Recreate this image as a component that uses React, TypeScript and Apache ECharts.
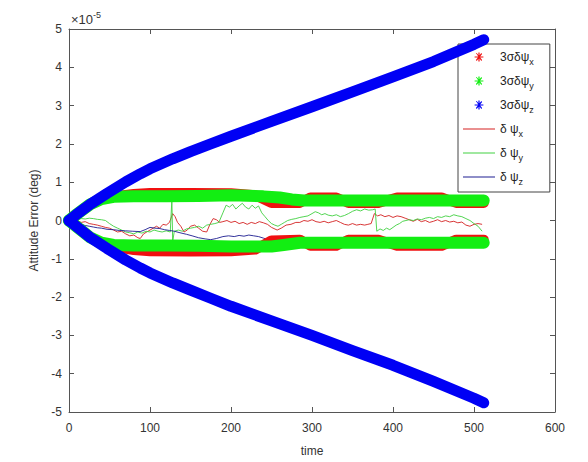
import { useEffect, useRef } from "react";
import * as echarts from "echarts";

const FONT = '"Liberation Sans", Arial, Helvetica, sans-serif';

// all values in units of 1e-5 deg, time in s
const xTicks = { min: 0, max: 600, interval: 100 };
const yTicks = { min: -5, max: 5, interval: 1 };

const legendNames = ["3σδψx", "3σδψy", "3σδψz", "δψx", "δψy", "δψz"];
const legendLabels: Record<string, string> = {
  "3σδψx": "3σδψ{s|x}",
  "3σδψy": "3σδψ{s|y}",
  "3σδψz": "3σδψ{s|z}",
  "δψx": "δ ψ{s|x}",
  "δψy": "δ ψ{s|y}",
  "δψz": "δ ψ{s|z}",
};

const sigmaXUpper = [[0,0],[10,0.17],[26,0.42],[40,0.55],[60,0.64],[80,0.69],[100,0.72],[150,0.72],[200,0.71],[230,0.66],[250,0.46],[285,0.46],[298,0.6],[330,0.6],[345,0.46],[382,0.46],[405,0.6],[460,0.6],[478,0.46],[512,0.46]];
const sigmaXLower = [[0,0],[10,-0.17],[26,-0.44],[40,-0.58],[60,-0.7],[80,-0.77],[100,-0.8],[150,-0.81],[200,-0.8],[230,-0.76],[250,-0.52],[285,-0.5],[298,-0.66],[330,-0.66],[345,-0.5],[382,-0.5],[405,-0.66],[460,-0.66],[478,-0.5],[512,-0.5]];

const sigmaYUpper = [[0,0],[10,0.17],[26,0.42],[40,0.56],[55,0.62],[80,0.63],[120,0.63],[160,0.64],[200,0.66],[240,0.63],[260,0.6],[275,0.55],[290,0.52],[350,0.52],[400,0.52],[450,0.52],[512,0.52]];
const sigmaYLower = [[0,0],[10,-0.17],[26,-0.44],[40,-0.58],[55,-0.64],[80,-0.65],[120,-0.65],[160,-0.66],[200,-0.68],[250,-0.68],[265,-0.64],[285,-0.58],[350,-0.58],[400,-0.58],[450,-0.58],[512,-0.58]];

const sigmaZUpper = [[0,0],[10,0.17],[26,0.42],[47,0.71],[70,1.01],[88,1.22],[100,1.35],[128,1.61],[150,1.8],[175,2.0],[200,2.2],[250,2.59],[300,2.97],[350,3.36],[400,3.75],[450,4.15],[500,4.6],[512,4.72]];
const sigmaZLower = [[0,0],[10,-0.17],[26,-0.44],[47,-0.73],[70,-1.03],[88,-1.24],[100,-1.37],[128,-1.63],[150,-1.82],[175,-2.03],[200,-2.24],[250,-2.62],[300,-3.0],[350,-3.4],[400,-3.78],[450,-4.2],[500,-4.64],[512,-4.76]];

const dPsiX = [[0,0],[5,-0.02],[10,0.0],[15,-0.05],[20,-0.03],[25,-0.08],[30,-0.1],[35,-0.12],[40,-0.15],[45,-0.18],[50,-0.2],[55,-0.25],[60,-0.3],[65,-0.28],[70,-0.35],[75,-0.4],[80,-0.38],[85,-0.45],[88,-0.47],[92,-0.35],[96,-0.3],[100,-0.25],[104,-0.2],[108,-0.15],[112,-0.2],[116,-0.1],[120,-0.12],[124,-0.05],[128,0.18],[131,0.1],[134,-0.05],[138,-0.15],[142,-0.3],[146,-0.25],[150,-0.15],[155,-0.12],[160,-0.2],[165,-0.28],[170,-0.3],[174,-0.1],[178,0.05],[182,0.02],[186,-0.05],[190,-0.03],[195,0.0],[200,-0.05],[205,-0.02],[210,-0.08],[215,-0.05],[220,-0.1],[225,-0.05],[230,-0.08],[235,-0.03],[240,-0.06],[245,-0.1],[250,-0.18],[257,-0.25],[262,-0.2],[268,-0.12],[274,-0.1],[280,-0.05],[285,-0.05],[290,0.0],[295,-0.02],[300,0.02],[305,-0.03],[310,-0.05],[315,-0.02],[320,-0.06],[325,-0.03],[330,0.0],[335,-0.05],[340,-0.1],[345,-0.12],[350,-0.08],[355,-0.12],[360,-0.1],[365,-0.12],[369,-0.1],[373,-0.08],[377,0.18],[381,0.12],[385,0.15],[390,0.1],[395,0.13],[400,0.08],[405,0.12],[410,0.1],[415,0.06],[420,0.02],[425,-0.02],[430,0.03],[435,-0.03],[440,0.0],[445,-0.05],[450,-0.02],[455,0.02],[460,-0.03],[465,0.0],[470,-0.04],[475,-0.02],[480,-0.06],[485,-0.04],[490,-0.12],[495,-0.15],[500,-0.1],[505,-0.08],[510,-0.1]];

const dPsiY = [[0,0],[5,0.02],[10,0.03],[15,0.05],[20,0.04],[25,0.06],[30,0.05],[35,0.03],[40,0.02],[45,0.0],[50,-0.08],[55,-0.15],[60,-0.2],[65,-0.25],[70,-0.3],[75,-0.32],[80,-0.35],[85,-0.3],[90,-0.33],[95,-0.28],[100,-0.3],[105,-0.25],[110,-0.28],[115,-0.3],[120,-0.27],[125,-0.3],[127,0.55],[128,-0.55],[130,-0.28],[135,-0.25],[140,-0.28],[145,-0.22],[150,-0.2],[155,-0.18],[160,-0.15],[165,-0.2],[170,-0.12],[175,-0.1],[180,-0.08],[185,-0.05],[190,0.2],[194,0.4],[198,0.35],[202,0.42],[206,0.3],[210,0.38],[214,0.45],[218,0.35],[222,0.3],[226,0.4],[230,0.32],[234,0.38],[238,0.2],[242,0.1],[246,0.0],[250,-0.08],[254,-0.12],[258,-0.15],[262,-0.1],[266,-0.05],[270,0.0],[275,0.03],[280,0.05],[285,0.08],[290,0.1],[295,0.12],[300,0.18],[304,0.23],[308,0.2],[312,0.15],[316,0.18],[320,0.14],[325,0.12],[330,0.15],[335,0.1],[340,0.13],[345,0.18],[350,0.24],[355,0.28],[360,0.25],[365,0.3],[370,0.27],[375,0.28],[378,0.3],[380,-0.28],[384,-0.22],[388,-0.26],[392,-0.2],[396,-0.24],[400,-0.18],[404,-0.12],[408,-0.08],[412,-0.02],[416,0.0],[420,0.02],[425,0.0],[430,0.04],[435,0.02],[440,0.06],[445,0.08],[450,0.05],[455,0.1],[460,0.08],[465,0.12],[470,0.1],[475,0.15],[480,0.12],[485,0.1],[490,0.05],[495,0.0],[500,-0.08],[505,-0.15],[510,-0.28]];

const dPsiZ = [[0,0],[5,-0.05],[10,-0.08],[15,-0.1],[20,-0.13],[25,-0.15],[30,-0.17],[35,-0.19],[40,-0.2],[47,-0.23],[55,-0.24],[62,-0.26],[70,-0.27],[78,-0.28],[88,-0.29],[94,-0.24],[100,-0.18],[106,-0.2],[112,-0.21],[118,-0.24],[124,-0.26],[130,-0.28],[137,-0.32],[145,-0.36],[152,-0.4],[160,-0.45],[168,-0.48],[175,-0.5],[182,-0.47],[190,-0.42],[197,-0.4],[204,-0.42],[210,-0.39],[216,-0.41],[222,-0.38],[228,-0.4],[234,-0.42],[240,-0.46],[246,-0.5],[252,-0.53],[257,-0.56]];

const ASTERISK =
  "path://M0 0 M32 14 M15.4 2.6 L16.6 2.6 L16.6 11.4 L15.4 11.4 Z M11.6 6.4 L20.4 6.4 L20.4 7.6 L11.6 7.6 Z M12.9 3.1 L13.7 3.1 L19.1 10.1 L18.3 10.9 Z M18.3 3.1 L19.1 3.9 L13.7 10.9 L12.9 10.1 Z";
const LINEICON = "path://M0 0 M32 14 M0 6.5 L32 6.5 L32 7.5 L0 7.5 Z";

function band(name: string, data: number[][], color: string, width: number, z: number) {
  return {
    name,
    type: "line",
    data,
    color,
    symbol: "none",
    showSymbol: false,
    clip: false,
    z,
    silent: true,
    lineStyle: { color, width, cap: "round", join: "round" },
  };
}
function errLine(name: string, data: number[][], color: string) {
  return {
    name,
    type: "line",
    data,
    color,
    symbol: "none",
    showSymbol: false,
    z: 1,
    silent: true,
    lineStyle: { color, width: 0.9 },
  };
}

export default function App() {
  const ref = useRef<HTMLDivElement>(null);
  useEffect(() => {
    document.body.style.margin = "0";
    const chart = echarts.init(ref.current!, null, { renderer: "svg" });
    const axisCommon = {
      type: "value",
      axisLine: { show: true, onZero: false, lineStyle: { color: "#555", width: 1 } },
      axisTick: { show: true, inside: true, length: 5, lineStyle: { color: "#555" } },
      splitLine: { show: false },
    };
    chart.setOption({
      animation: false,
      backgroundColor: "#fff",
      grid: { left: 69, right: 33, top: 29, bottom: 49, containLabel: false },
      xAxis: [
        {
          ...axisCommon,
          ...xTicks,
          position: "bottom",
          name: "time",
          nameLocation: "middle",
          nameGap: 33,
          nameTextStyle: { fontSize: 12, color: "#333", fontFamily: FONT },
          axisLabel: { fontSize: 12, color: "#333", margin: 10, fontFamily: FONT },
        },
        { ...axisCommon, ...xTicks, position: "top", axisLabel: { show: false } },
      ],
      yAxis: [
        {
          ...axisCommon,
          ...yTicks,
          position: "left",
          name: "Attitude Error (deg)",
          nameLocation: "middle",
          nameGap: 18,
          nameTextStyle: { fontSize: 12, color: "#333", fontFamily: FONT },
          axisLabel: { fontSize: 12, color: "#333", margin: 7, fontFamily: FONT },
        },
        { ...axisCommon, ...yTicks, position: "right", axisLabel: { show: false } },
      ],
      legend: {
        orient: "vertical",
        left: 458,
        top: 44,
        itemWidth: 32,
        itemHeight: 14,
        itemGap: 6,
        padding: [4, 16, 6, 5],
        borderColor: "#444",
        borderWidth: 1,
        backgroundColor: "#fff",
        itemStyle: { borderWidth: 0 },
        selectedMode: false,
        textStyle: {
          fontSize: 12,
          lineHeight: 18,
          color: "#222",
          fontFamily: FONT,
          rich: { s: { fontSize: 9, lineHeight: 10, verticalAlign: "bottom", color: "#222", fontFamily: FONT } },
        },
        formatter: (n: string) => legendLabels[n] ?? n,
        data: legendNames.map((n, i) => ({ name: n, icon: i < 3 ? ASTERISK : LINEICON })),
      },
      graphic: [
        {
          type: "text",
          x: 71,
          y: 10,
          silent: true,
          style: {
            text: "×10{sup|-5}",
            fontSize: 13,
            lineHeight: 18,
            fontFamily: FONT,
            fill: "#333",
            rich: { sup: { fontSize: 9, lineHeight: 9, verticalAlign: "top", fill: "#333", fontFamily: FONT } },
          },
        },
      ],
      series: [
        band(legendNames[0], sigmaXUpper, "#f01010", 10, 2),
        band(legendNames[0], sigmaXLower, "#f01010", 10, 2),
        band(legendNames[1], sigmaYUpper, "#12ee12", 12, 3),
        band(legendNames[1], sigmaYLower, "#12ee12", 12, 3),
        band(legendNames[2], sigmaZUpper, "#0000f5", 11, 4),
        band(legendNames[2], sigmaZLower, "#0000f5", 11, 4),
        errLine(legendNames[3], dPsiX, "#d42020"),
        errLine(legendNames[4], dPsiY, "#40d040"),
        errLine(legendNames[5], dPsiZ, "#1c1c90"),
      ],
    });
    return () => chart.dispose();
  }, []);
  return <div ref={ref} style={{ width: 588, height: 462 }} />;
}
